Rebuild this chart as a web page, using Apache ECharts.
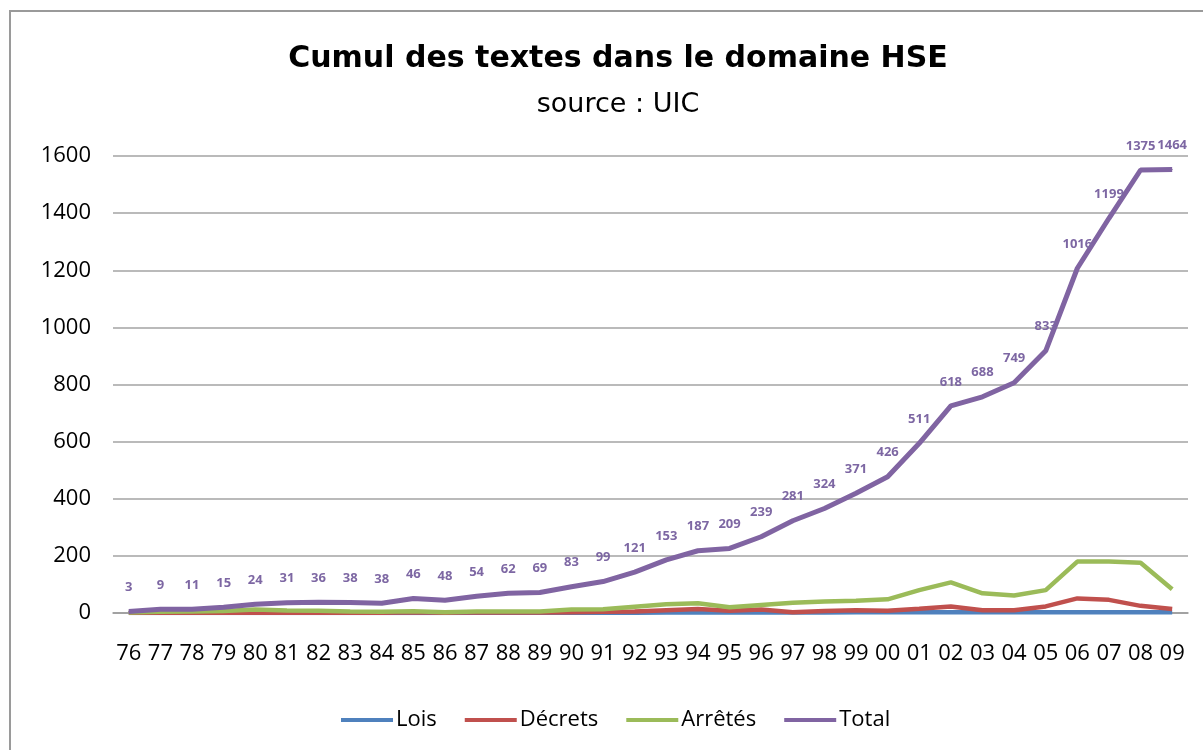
<!DOCTYPE html>
<html>
<head>
<meta charset="utf-8">
<script src="https://cdn.jsdelivr.net/npm/echarts@6/dist/echarts.min.js"></script>
<style>
html,body{margin:0;padding:0;background:#fff;}
#frame{position:absolute;left:9px;top:10px;width:1300px;height:900px;border:2px solid #9a9a9a;box-sizing:border-box;}
#chart{position:absolute;left:0;top:0;width:1203px;height:750px;}
</style>
</head>
<body>
<div id="frame"></div>
<div id="chart"></div>
<script>
const categories = ['76','77','78','79','80','81','82','83','84','85','86','87','88','89','90','91','92','93','94','95','96','97','98','99','00','01','02','03','04','05','06','07','08','09'];
const lois    = [0,0,0,0,0,0,0,0,0,1,0,1,1,1,1,1,1,2,3,2,2,2,2,3,3,3,3,3,3,3,3,3,3,3];
const decrets = [1,1,1,1,1,1,1,1,1,3,1,3,2,2,3,4,5,10,14,8,12,3,7,10,8,15,23,10,10,23,51,46,25,14];
const arretes = [2,4,5,7,12,9,8,5,4,6,3,5,5,5,12,13,22,31,34,20,28,36,40,43,48,80,107,69,61,80,180,180,176,83];
const total   = [5,13,13,20,31,36,38,37,34,51,45,59,69,72,92,110,143,186,218,226,267,323,366,419,477,594,725,757,806,918,1207,1382,1551,1553];
const totalLabels = [3,9,11,15,24,31,36,38,38,46,48,54,62,69,83,99,121,153,187,209,239,281,324,371,426,511,618,688,749,833,1016,1199,1375,1464];
const yTicks = {min:0, max:1600, interval:200};

const FONT = 'Open Sans';
const chart = echarts.init(document.getElementById('chart'), null, {renderer:'canvas'});
function lineSeries(name, data, color){
  return {name, type:'line', data, symbol:'none', smooth:false,
    lineStyle:{color, width:4.5}, itemStyle:{color}, z:2};
}
chart.setOption({
  animation:false,
  backgroundColor:'transparent',
  title:[
    {text:'Cumul des textes dans le domaine HSE', left:613, textAlign:'center', top:39,
     textStyle:{fontFamily:'DejaVu Sans', fontWeight:'bold', fontSize:30, color:'#000'}},
    {text:'source : UIC', left:613, textAlign:'center', top:86,
     textStyle:{fontFamily:'DejaVu Sans', fontWeight:'normal', fontSize:27, color:'#000'}}
  ],
  legend:{
    bottom:14, left:336, itemWidth:52, itemHeight:4, itemGap:28,
    icon:'rect',
    textStyle:{fontFamily:FONT, fontSize:22, color:'#000', padding:[0,0,0,-2]},
    data:['Lois','Décrets','Arrêtés','Total']
  },
  grid:{left:113, right:15, top:156, bottom:137, containLabel:false},
  xAxis:{
    type:'category', data:categories, boundaryGap:true,
    axisLine:{lineStyle:{color:'#9a9a9a', width:1.5}},
    axisTick:{show:false},
    axisLabel:{fontFamily:FONT, fontSize:22, color:'#000', margin:30, interval:0}
  },
  yAxis:{
    type:'value', min:yTicks.min, max:yTicks.max, interval:yTicks.interval,
    axisLine:{show:false}, axisTick:{show:false},
    splitLine:{lineStyle:{color:'#a3a3a3', width:1.5}},
    axisLabel:{fontFamily:FONT, fontSize:22, color:'#000', margin:22, formatter:v=>String(v)}
  },
  series:[
    lineSeries('Lois', lois, '#4F81BD'),
    lineSeries('Décrets', decrets, '#C0504D'),
    lineSeries('Arrêtés', arretes, '#9BBB59'),
    {name:'Total', type:'line', data:total, symbol:'circle', symbolSize:1, showSymbol:true,
     lineStyle:{color:'#8064A2', width:5}, itemStyle:{color:'#8064A2'}, z:3,
     label:{show:true, position:'top', distance:17,
       formatter:p=>String(totalLabels[p.dataIndex]),
       fontFamily:FONT, fontWeight:'bold', fontSize:13, color:'#7D67A3'}}
  ]
});
</script>
</body>
</html>
